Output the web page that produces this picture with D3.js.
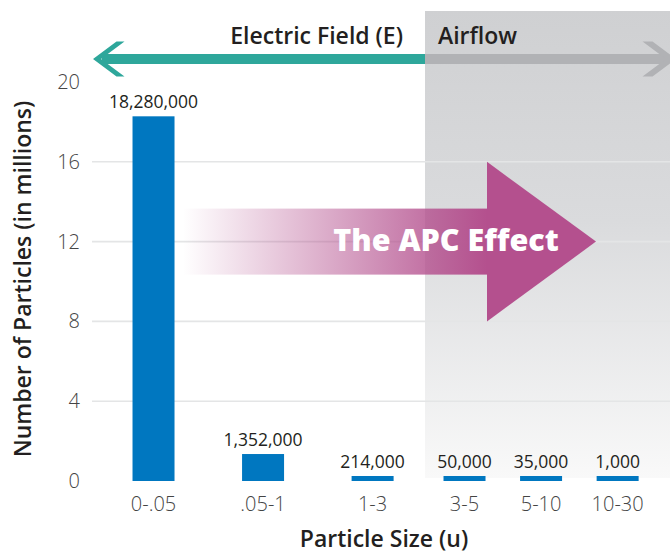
<!DOCTYPE html>
<html><head><meta charset="utf-8">
<script src="https://cdn.jsdelivr.net/npm/d3@7"></script>
<style>
html,body{margin:0;padding:0;background:#fff;}
svg{display:block;font-family:"Open Sans","Noto Sans",sans-serif;}
</style></head><body>
<svg id="chart" width="670" height="554"></svg>
<script>
// ---- data ----
const categories = ["0-.05", ".05-1", "1-3", "3-5", "5-10", "10-30"];
const particleCounts = [18280000, 1352000, 214000, 50000, 35000, 1000];
const zoneOf = ["Electric Field (E)", "Electric Field (E)", "Electric Field (E)", "Airflow", "Airflow", "Airflow"];
const zoneNames = ["Electric Field (E)", "Airflow"];
const yTicks = [0, 4, 8, 12, 16, 20];
const gridTicks = [4, 8, 12, 16];
const yTitle = "Number of Particles (in millions)";
const xTitle = "Particle Size (u)";
const effectLabel = "The APC Effect";

// ---- layout ----
const W = 670, H = 554;
const plotLeft = 92, plotRight = 670, split = 425;
const svg = d3.select("#chart");
const defs = svg.append("defs");

const y = d3.scaleLinear().domain([0, 20]).range([481, 82]);

const zoneX = {
  "Electric Field (E)": d3.scalePoint().domain(categories.filter((c,i)=>zoneOf[i]==="Electric Field (E)"))
      .range([plotLeft, split]).padding(0.52).align(0.54),
  "Airflow": d3.scalePoint().domain(categories.filter((c,i)=>zoneOf[i]==="Airflow"))
      .range([split, plotRight]).padding(0.6).align(0.43)
};
const xc = i => zoneX[zoneOf[i]](categories[i]);
const barW = 42, minBarH = 5;

// gray airflow zone background
const gg = defs.append("linearGradient").attr("id","grayBg").attr("x1",0).attr("y1",0).attr("x2",0).attr("y2",1);
gg.append("stop").attr("offset","0").attr("stop-color","#cfd0d2");
gg.append("stop").attr("offset","0.45").attr("stop-color","#dadbdd");
gg.append("stop").attr("offset","1").attr("stop-color","#f9f9f9");
svg.append("rect").attr("x", split).attr("y", 11).attr("width", W - split).attr("height", 467)
  .attr("fill", "url(#grayBg)");

// gridlines
svg.append("g").selectAll("line").data(gridTicks).join("line")
  .attr("x1", plotLeft).attr("x2", plotRight)
  .attr("y1", d => y(d)).attr("y2", d => y(d))
  .attr("stroke", "#e4e5e6").attr("stroke-width", 1.6);

// y axis labels
const yAxis = svg.append("g").attr("transform", "translate(80,0)")
  .call(d3.axisLeft(y).tickValues(yTicks).tickSize(0).tickPadding(0));
yAxis.select(".domain").remove();
yAxis.selectAll("text").attr("font-size", 20).attr("font-weight", 300)
  .attr("fill", "#444").attr("font-family", "'Open Sans','Noto Sans',sans-serif");

// top direction arrows
const ay = 59, aHalf = 5;
svg.append("rect").attr("x", 102).attr("y", ay - aHalf).attr("width", split - 102).attr("height", aHalf*2).attr("fill", "#2ea79b");
svg.append("polygon").attr("fill", "#2ea79b")
  .attr("points", [[93,ay],[116.5,ay-17.5],[124.5,ay-17.5],[101,ay],[124.5,ay+17.5],[116.5,ay+17.5]].join(" "));
svg.append("rect").attr("x", split).attr("y", ay - aHalf).attr("width", 668 - split).attr("height", aHalf*2).attr("fill", "#b1b2b5");
svg.append("polygon").attr("fill", "#b1b2b5")
  .attr("points", [[676,ay],[652.5,ay-17.5],[642.5,ay-17.5],[666,ay],[642.5,ay+17.5],[652.5,ay+17.5]].join(" "));

svg.append("text").attr("x", split - 22).attr("y", 44).attr("text-anchor", "end")
  .attr("font-size", 23).attr("font-weight", 600).attr("fill", "#231f20").text(zoneNames[0]);
svg.append("text").attr("x", split + 13).attr("y", 44).attr("text-anchor", "start")
  .attr("font-size", 23).attr("font-weight", 600).attr("fill", "#231f20").text(zoneNames[1]);

// APC effect arrow
const pg = defs.append("linearGradient").attr("id","apcGrad").attr("gradientUnits","userSpaceOnUse")
  .attr("x1",183).attr("y1",0).attr("x2",487).attr("y2",0);
pg.append("stop").attr("offset","0").attr("stop-color","#b4508e").attr("stop-opacity",0);
pg.append("stop").attr("offset","1").attr("stop-color","#b4508e").attr("stop-opacity",1);
const cy = y(12), shaftHalf = 33;
svg.append("rect").attr("x", 183).attr("y", cy - shaftHalf).attr("width", 487 - 183 + 1).attr("height", shaftHalf*2)
  .attr("fill", "url(#apcGrad)");
svg.append("polygon").attr("fill", "#b4508e")
  .attr("points", [[487, y(16)], [596, cy], [487, y(8)]].join(" "));
svg.append("text").attr("x", 446).attr("y", 251).attr("text-anchor", "middle")
  .attr("font-size", 30.5).attr("font-weight", 800).attr("fill", "#fff").text(effectLabel);

// bars
const idx = d3.range(categories.length);
const barTop = i => Math.min(y(particleCounts[i] / 1e6), y(0) - minBarH);
svg.append("g").selectAll("rect").data(idx).join("rect")
  .attr("x", i => xc(i) - barW/2).attr("width", barW)
  .attr("y", i => barTop(i)).attr("height", i => y(0) - barTop(i))
  .attr("fill", "#0077c0");

// value labels
svg.append("g").selectAll("text").data(idx).join("text")
  .attr("x", i => xc(i)).attr("y", i => barTop(i) - 8).attr("text-anchor", "middle")
  .attr("font-size", 17.5).attr("fill", "#231f20").text(i => d3.format(",")(particleCounts[i]));

// category labels
svg.append("g").selectAll("text").data(idx).join("text")
  .attr("x", i => xc(i)).attr("y", 511).attr("text-anchor", "middle")
  .attr("font-size", 20).attr("font-weight", 300).attr("fill", "#444").text(i => categories[i]);

// axis titles
svg.append("text").attr("transform", "translate(31,279) rotate(-90)").attr("text-anchor", "middle")
  .attr("font-size", 23).attr("font-weight", 600).attr("fill", "#231f20").text(yTitle);
svg.append("text").attr("x", 384).attr("y", 547).attr("text-anchor", "middle")
  .attr("font-size", 23).attr("font-weight", 600).attr("fill", "#231f20").text(xTitle);
</script>
</body></html>
